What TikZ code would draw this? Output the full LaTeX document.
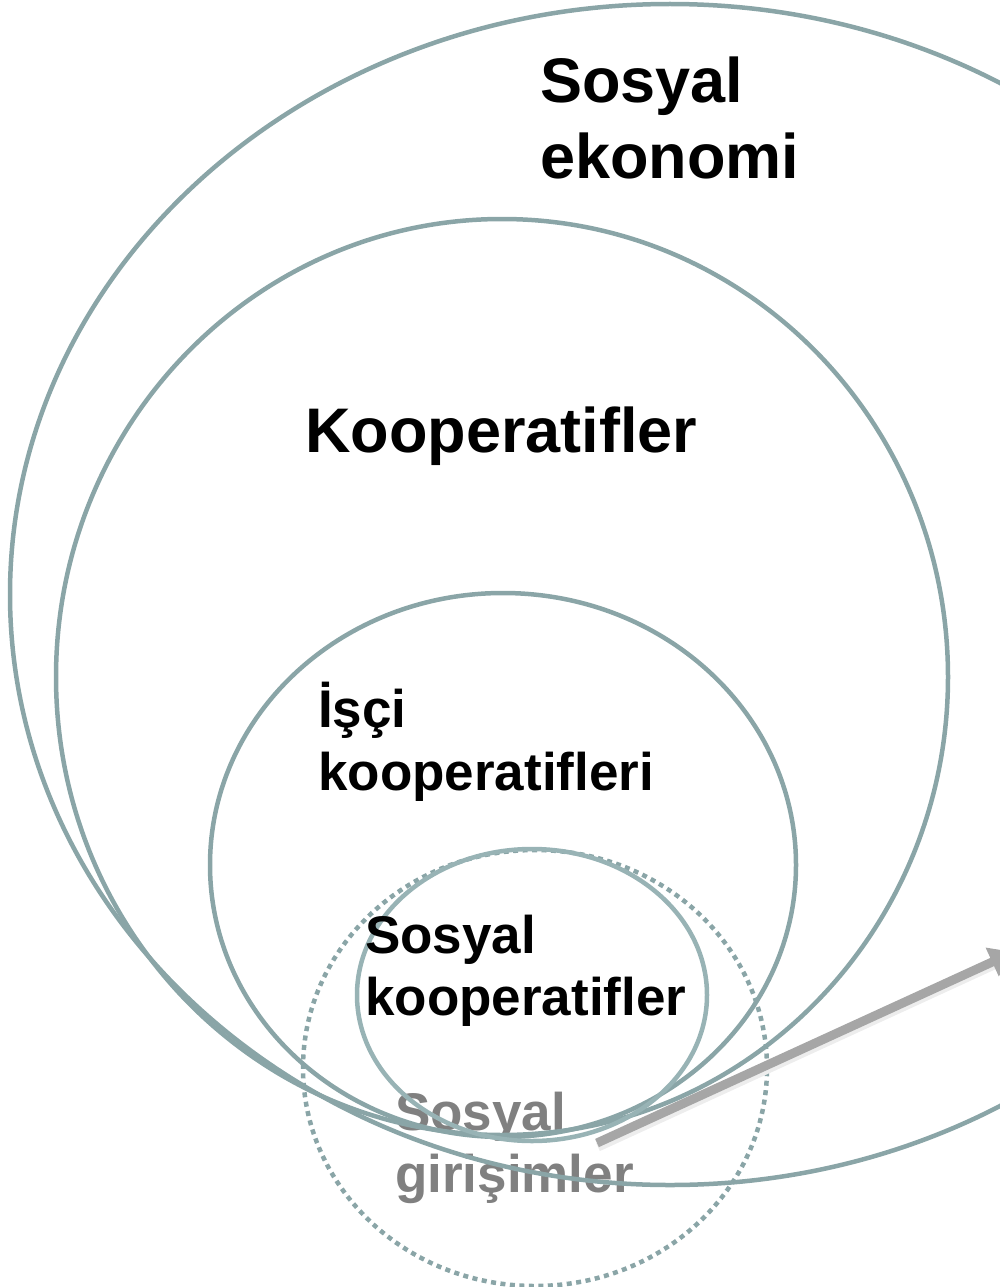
\documentclass[tikz,border=0pt]{standalone}
\usepackage{fontspec}
\setmainfont{Liberation Sans}
\usetikzlibrary{arrows.meta}
\definecolor{ringc}{RGB}{138,165,167}
\definecolor{ringl}{RGB}{152,179,181}
\definecolor{txtgray}{RGB}{128,128,128}
\definecolor{arrowc}{RGB}{166,166,166}
\tikzset{
  ring/.style={draw=ringc, line width=4.5pt},
  ringlight/.style={draw=ringl, line width=4.5pt},
  dottedring/.style={draw=ringc, line width=4.5pt, dash pattern=on 5pt off 4.5pt},
  bigtxt/.style={anchor=base west, inner sep=0pt, font=\bfseries\fontsize{63}{75}\selectfont},
  midtxt/.style={anchor=base west, inner sep=0pt, font=\bfseries\fontsize{53}{63}\selectfont},
  pointer/.style={draw=arrowc, line width=9pt, -{Triangle[length=24pt,width=30pt]}}
}
\begin{document}
\begin{tikzpicture}[x=1pt,y=-1pt]
\useasboundingbox (0,0) rectangle (1000,1287);
\clip (0,0) rectangle (1000,1287);
% grey label lies beneath the ring outlines
\node[midtxt, text=txtgray] (sg1) at (395,1130) {Sosyal};
\node[midtxt, text=txtgray] (sg2) at (395,1192) {girişimler};
% rings
\draw[ring] (670,594.5) ellipse [x radius=660pt, y radius=590.5pt];
\draw[ring] (502,677) ellipse [x radius=446pt, y radius=458pt];
\draw[ring] (503,865) ellipse [x radius=293pt, y radius=272pt];
\draw[dottedring] (535,1068) ellipse [x radius=232pt, y radius=218pt];
\draw[ringlight] (532,995) ellipse [x radius=175pt, y radius=146pt];
% labels
\node[bigtxt] (se1) at (540,103) {Sosyal};
\node[bigtxt] (se2) at (540,178) {ekonomi};
\node[bigtxt] (ko) at (305,452) {Kooperatifler};
\node[midtxt] (ik1) at (318,727) {İşçi};
\node[midtxt] (ik2) at (318,790) {kooperatifleri};
\node[midtxt] (sk1) at (365,953) {Sosyal};
\node[midtxt] (sk2) at (365,1015) {kooperatifler};
% pointer
\coordinate (pa) at (597,1143);
\coordinate (pb) at (1014,952);
\draw[draw=black!7, line width=9pt, line cap=butt] ([shift={(1,4)}]pa) -- ([shift={(-20,13)}]pb);
\draw[pointer] (pa) -- (pb);
\end{tikzpicture}
\end{document}
